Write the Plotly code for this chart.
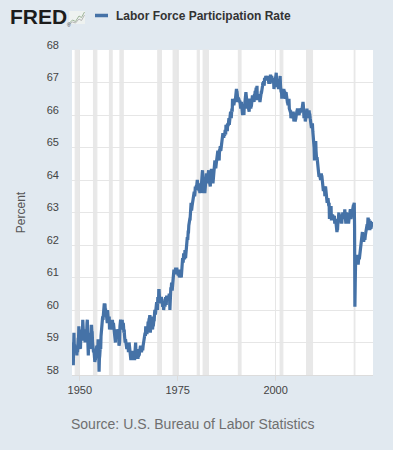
import pandas as pd
import plotly.graph_objects as go

# ---------------- data (monthly, percent) ----------------
lfpr_1940s = [
    58.6, 58.9, 58.5, 59.0, 58.3, 59.2, 59.3, 58.9, 58.9, 58.7, 58.7, 58.9,  # 1948
    58.7, 58.9, 58.8, 58.6, 58.9, 58.7, 58.9, 59.1, 59.1, 59.5, 59.1, 59.1,  # 1949
]
lfpr_1950s = [
    58.9, 58.9, 58.8, 59.2, 59.1, 59.1, 59.1, 59.4, 59.3, 59.7, 59.3, 59.2,  # 1950
    59.1, 59.1, 59.1, 59.3, 59.0, 59.3, 59.4, 59.3, 59.2, 59.3, 59.6, 59.7,  # 1951
    59.2, 58.7, 58.6, 58.9, 59.0, 58.9, 58.9, 58.8, 59.3, 58.9, 59.2, 59.5,  # 1952
    59.5, 59.3, 59.3, 59.0, 58.8, 58.9, 58.7, 58.8, 58.7, 58.6, 58.4, 58.5,  # 1953
    58.5, 58.8, 58.8, 58.8, 58.9, 58.7, 58.9, 58.8, 59.1, 58.9, 58.6, 58.1,  # 1954
    58.5, 58.6, 58.7, 58.9, 58.8, 59.2, 59.4, 59.5, 59.6, 59.6, 59.8, 59.7,  # 1955
    59.9, 60.0, 60.1, 60.2, 60.1, 60.2, 60.0, 60.0, 59.8, 59.9, 59.8, 59.7,  # 1956
    59.6, 60.0, 59.8, 59.6, 59.6, 59.7, 59.8, 59.4, 59.5, 59.5, 59.6, 59.5,  # 1957
    59.5, 59.4, 59.6, 59.7, 59.7, 59.5, 59.6, 59.6, 59.5, 59.4, 59.4, 59.3,  # 1958
    59.3, 59.0, 59.2, 59.3, 59.2, 59.4, 59.4, 59.3, 59.4, 59.3, 59.4, 59.3,  # 1959
]
lfpr_1960s = [
    58.9, 59.0, 59.0, 59.5, 59.6, 59.7, 59.6, 59.5, 59.5, 59.4, 59.7, 59.4,  # 1960
    59.5, 59.6, 59.5, 59.3, 59.4, 59.2, 59.0, 59.0, 59.1, 59.0, 59.0, 59.0,  # 1961
    58.8, 58.9, 58.9, 58.8, 58.9, 58.7, 58.9, 59.0, 58.9, 58.8, 58.6, 58.5,  # 1962
    58.5, 58.5, 58.5, 58.7, 58.7, 58.5, 58.7, 58.6, 58.7, 58.6, 58.6, 58.5,  # 1963
    58.5, 58.7, 58.8, 59.0, 58.7, 58.7, 58.6, 58.5, 58.6, 58.6, 58.5, 58.6,  # 1964
    58.6, 58.8, 58.6, 58.7, 58.9, 58.9, 58.9, 58.8, 58.7, 58.7, 58.8, 58.8,  # 1965
    58.8, 58.8, 58.9, 59.0, 59.1, 59.1, 59.2, 59.3, 59.3, 59.2, 59.5, 59.3,  # 1966
    59.4, 59.3, 59.3, 59.5, 59.4, 59.6, 59.6, 59.6, 59.7, 59.7, 59.8, 59.8,  # 1967
    59.3, 59.5, 59.6, 59.7, 59.6, 59.8, 59.5, 59.4, 59.6, 59.5, 59.6, 59.7,  # 1968
    59.7, 59.9, 60.0, 59.9, 59.9, 60.1, 60.0, 60.2, 60.2, 60.1, 60.0, 60.4,  # 1969
]
lfpr_1970s = [
    60.3, 60.2, 60.6, 60.6, 60.4, 60.2, 60.4, 60.3, 60.4, 60.4, 60.4, 60.3,  # 1970
    60.3, 60.2, 60.1, 60.2, 60.2, 60.0, 60.1, 60.2, 60.2, 60.1, 60.3, 60.4,  # 1971
    60.2, 60.2, 60.4, 60.4, 60.4, 60.4, 60.4, 60.4, 60.4, 60.4, 60.5, 60.4,  # 1972
    60.0, 60.4, 60.6, 60.7, 60.6, 60.8, 60.8, 60.6, 60.8, 60.9, 61.0, 61.0,  # 1973
    61.2, 61.2, 61.2, 61.1, 61.2, 61.2, 61.3, 61.2, 61.3, 61.3, 61.2, 61.2,  # 1974
    61.2, 61.1, 61.1, 61.2, 61.2, 61.0, 61.1, 61.2, 61.1, 61.1, 61.1, 61.0,  # 1975
    61.2, 61.2, 61.3, 61.6, 61.5, 61.5, 61.7, 61.7, 61.6, 61.6, 61.8, 61.8,  # 1976
    61.6, 61.8, 61.9, 62.0, 62.1, 62.2, 62.2, 62.2, 62.4, 62.4, 62.6, 62.8,  # 1977
    62.7, 62.8, 62.8, 62.9, 63.0, 63.3, 63.1, 63.1, 63.2, 63.3, 63.4, 63.5,  # 1978
    63.4, 63.5, 63.6, 63.6, 63.5, 63.6, 63.8, 63.7, 63.7, 63.8, 63.8, 63.9,  # 1979
]
lfpr_1980s = [
    64.0, 63.9, 63.7, 63.8, 63.9, 63.7, 63.7, 63.7, 63.6, 63.7, 63.8, 63.6,  # 1980
    63.9, 63.9, 64.1, 64.2, 64.3, 63.7, 63.8, 63.7, 63.6, 63.9, 63.9, 63.6,  # 1981
    63.7, 63.8, 63.8, 63.9, 64.2, 63.9, 64.0, 64.1, 64.1, 64.1, 64.2, 64.3,  # 1982
    64.0, 63.9, 63.8, 63.9, 63.8, 64.3, 64.1, 64.3, 64.3, 64.0, 64.1, 64.1,  # 1983
    63.9, 64.1, 64.1, 64.3, 64.5, 64.6, 64.6, 64.4, 64.4, 64.4, 64.5, 64.6,  # 1984
    64.7, 64.7, 64.9, 64.9, 64.8, 64.6, 64.7, 64.6, 64.9, 64.9, 65.0, 65.0,  # 1985
    64.9, 65.0, 65.2, 65.2, 65.3, 65.4, 65.4, 65.4, 65.3, 65.3, 65.4, 65.4,  # 1986
    65.4, 65.5, 65.5, 65.4, 65.7, 65.5, 65.6, 65.7, 65.5, 65.7, 65.7, 65.7,  # 1987
    65.8, 65.9, 65.7, 65.8, 65.8, 65.9, 66.1, 66.0, 65.9, 66.0, 66.2, 66.1,  # 1988
    66.5, 66.3, 66.3, 66.4, 66.3, 66.5, 66.5, 66.5, 66.4, 66.5, 66.6, 66.5,  # 1989
]
lfpr_1990s = [
    66.8, 66.7, 66.7, 66.6, 66.6, 66.4, 66.5, 66.5, 66.4, 66.4, 66.4, 66.4,  # 1990
    66.2, 66.2, 66.3, 66.4, 66.2, 66.2, 66.1, 66.0, 66.2, 66.1, 66.1, 66.0,  # 1991
    66.3, 66.2, 66.4, 66.5, 66.6, 66.7, 66.6, 66.5, 66.4, 66.2, 66.3, 66.3,  # 1992
    66.2, 66.2, 66.2, 66.1, 66.4, 66.5, 66.4, 66.4, 66.2, 66.3, 66.3, 66.4,  # 1993
    66.6, 66.6, 66.5, 66.5, 66.6, 66.4, 66.4, 66.6, 66.6, 66.7, 66.7, 66.7,  # 1994
    66.8, 66.8, 66.7, 66.9, 66.5, 66.5, 66.6, 66.6, 66.6, 66.5, 66.6, 66.5,  # 1995
    66.4, 66.6, 66.6, 66.7, 66.7, 66.7, 66.9, 66.7, 66.9, 67.0, 66.9, 67.0,  # 1996
    67.0, 66.9, 67.1, 67.1, 67.1, 67.1, 67.2, 67.1, 67.1, 67.1, 67.1, 67.2,  # 1997
    67.1, 67.1, 67.1, 67.0, 67.0, 67.0, 67.0, 67.0, 67.2, 67.2, 67.1, 67.2,  # 1998
    67.2, 67.1, 67.0, 67.1, 67.1, 67.1, 67.0, 66.8, 66.9, 66.9, 67.0, 67.1,  # 1999
]
lfpr_2000s = [
    67.3, 67.3, 67.3, 67.0, 67.1, 67.1, 66.9, 66.9, 66.9, 66.8, 66.9, 67.0,  # 2000
    67.2, 67.1, 67.2, 66.9, 66.7, 66.7, 66.8, 66.5, 66.8, 66.7, 66.7, 66.7,  # 2001
    66.5, 66.8, 66.6, 66.7, 66.7, 66.6, 66.5, 66.6, 66.7, 66.6, 66.4, 66.4,  # 2002
    66.4, 66.4, 66.3, 66.4, 66.4, 66.5, 66.2, 66.1, 66.1, 66.1, 66.1, 65.9,  # 2003
    66.1, 66.0, 66.0, 65.9, 66.0, 66.1, 66.1, 66.0, 65.8, 65.9, 66.0, 65.9,  # 2004
    65.8, 65.9, 65.9, 66.1, 66.1, 66.1, 66.1, 66.2, 66.1, 66.1, 66.0, 66.0,  # 2005
    66.0, 66.1, 66.2, 66.1, 66.1, 66.2, 66.1, 66.2, 66.1, 66.2, 66.3, 66.4,  # 2006
    66.4, 66.3, 66.2, 65.9, 66.0, 66.0, 66.0, 65.8, 66.0, 65.8, 66.0, 66.0,  # 2007
    66.2, 66.0, 66.1, 65.9, 66.1, 66.1, 66.1, 66.1, 66.0, 66.0, 65.9, 65.8,  # 2008
    65.7, 65.8, 65.6, 65.7, 65.7, 65.7, 65.5, 65.4, 65.1, 65.0, 65.0, 64.6,  # 2009
]
lfpr_2010s = [
    64.8, 64.9, 64.9, 65.2, 64.9, 64.6, 64.6, 64.7, 64.6, 64.4, 64.6, 64.3,  # 2010
    64.2, 64.1, 64.2, 64.2, 64.1, 64.0, 64.0, 64.1, 64.2, 64.1, 64.1, 64.0,  # 2011
    63.7, 63.7, 63.7, 63.7, 63.8, 63.8, 63.7, 63.5, 63.6, 63.8, 63.6, 63.6,  # 2012
    63.6, 63.4, 63.3, 63.4, 63.4, 63.4, 63.3, 63.2, 63.3, 62.8, 63.0, 62.9,  # 2013
    62.9, 63.0, 63.2, 62.8, 62.8, 62.8, 62.9, 62.9, 62.8, 62.9, 62.9, 62.8,  # 2014
    62.9, 62.7, 62.7, 62.7, 62.8, 62.6, 62.6, 62.6, 62.4, 62.5, 62.5, 62.7,  # 2015
    62.7, 62.9, 63.0, 62.8, 62.7, 62.8, 62.8, 62.8, 62.8, 62.8, 62.7, 62.7,  # 2016
    62.9, 62.9, 63.0, 62.9, 62.8, 62.8, 62.9, 62.9, 63.1, 62.7, 62.8, 62.7,  # 2017
    62.7, 63.0, 62.9, 62.8, 62.8, 62.9, 62.9, 62.7, 62.7, 62.8, 62.9, 63.0,  # 2018
    63.1, 63.1, 63.0, 62.8, 62.9, 62.9, 63.0, 63.1, 63.1, 63.2, 63.2, 63.2,  # 2019
]
lfpr_2020s = [
    63.3, 63.3, 62.6, 60.1, 60.8, 61.4, 61.5, 61.7, 61.4, 61.6, 61.5, 61.5,  # 2020
    61.4, 61.4, 61.5, 61.7, 61.6, 61.6, 61.7, 61.7, 61.7, 61.8, 61.9, 62.0,  # 2021
    62.2, 62.3, 62.4, 62.2, 62.3, 62.2, 62.1, 62.3, 62.3, 62.2, 62.2, 62.3,  # 2022
    62.4, 62.5, 62.6, 62.6, 62.6, 62.6, 62.6, 62.8, 62.8, 62.7, 62.8, 62.5,  # 2023
    62.5, 62.5, 62.7, 62.7, 62.5, 62.6, 62.7, 62.7, 62.7, 62.6,              # 2024
]
series_start = "1948-01-01"

recession_starts = ["1948-11-01", "1953-07-01", "1957-08-01", "1960-04-01",
                    "1969-12-01", "1973-11-01", "1980-01-01", "1981-07-01",
                    "1990-07-01", "2001-03-01", "2007-12-01", "2020-02-01"]
recession_ends = ["1949-10-01", "1954-05-01", "1958-04-01", "1961-02-01",
                  "1970-11-01", "1975-03-01", "1980-07-01", "1982-11-01",
                  "1991-03-01", "2001-11-01", "2009-06-01", "2020-04-01"]

x_tick_vals = ["1950-01-01", "1975-01-01", "2000-01-01"]
x_tick_text = ["1950", "1975", "2000"]
y_ticks = [58, 59, 60, 61, 62, 63, 64, 65, 66, 67, 68]

series_name = "Labor Force Participation Rate"
y_title = "Percent"
source_text = "Source: U.S. Bureau of Labor Statistics"

# ---------------- build ----------------
values = (lfpr_1940s + lfpr_1950s + lfpr_1960s + lfpr_1970s + lfpr_1980s
          + lfpr_1990s + lfpr_2000s + lfpr_2010s + lfpr_2020s)
dates = pd.date_range(series_start, periods=len(values), freq="MS")

W, H = 393, 450
ML, MR, MT, MB = 72, 20, 50, 75
PW, PH = W - ML - MR, H - MT - MB

def px(xp):
    return (xp - ML) / PW

def py(yp):
    return (H - MB - yp) / PH

BLUE = "#4572A7"
FONT = "Liberation Sans, Arial, sans-serif"

fig = go.Figure()
fig.add_trace(go.Scatter(x=dates, y=values, mode="lines",
                         line=dict(color=BLUE, width=3.2),
                         name=series_name, showlegend=False,
                         hoverinfo="skip"))

shapes = []
for s, e in zip(recession_starts, recession_ends):
    shapes.append(dict(type="rect", xref="x", yref="paper", x0=s, x1=e,
                       y0=0, y1=1, fillcolor="#e8e8e8",
                       line=dict(color="#e8e8e8", width=1.2),
                       layer="below"))

# legend line
shapes.append(dict(type="line", xref="paper", yref="paper",
                   x0=px(95), x1=px(108), y0=py(15.5), y1=py(15.5),
                   line=dict(color=BLUE, width=3.5)))
# small FRED chart icon
shapes.append(dict(type="rect", xref="paper", yref="paper",
                   x0=px(69), x1=px(85), y0=py(24), y1=py(11),
                   fillcolor="#eef2f0", line=dict(width=0)))
icon_pts_a = [(69.5, 23), (72.5, 20), (75.5, 21.5), (79, 16), (81.5, 17.5), (84.5, 12)]
icon_pts_b = [(69.5, 24), (72.5, 22), (75.5, 23), (79, 19), (81.5, 20.5), (84.5, 15)]
for pts, col in ((icon_pts_a, "#9fb59a"), (icon_pts_b, "#b5b5b5")):
    path = "M " + " L ".join(f"{px(a):.5f},{py(b):.5f}" for a, b in pts)
    shapes.append(dict(type="path", xref="paper", yref="paper", path=path,
                       line=dict(color=col, width=1)))

annotations = [
    dict(text="<b>FRED</b>", xref="paper", yref="paper", x=px(8), y=py(17),
         xanchor="left", yanchor="middle", showarrow=False,
         font=dict(family=FONT, size=21, color="#1c1c1c")),
    dict(text="®", xref="paper", yref="paper", x=px(65), y=py(25),
         xanchor="left", yanchor="middle", showarrow=False,
         font=dict(family=FONT, size=5, color="#333")),
    dict(text=f"<b>{series_name}</b>", xref="paper", yref="paper",
         x=px(114), y=py(15.5), xanchor="left", yanchor="middle",
         showarrow=False, font=dict(family=FONT, size=12, color="#333333")),
    dict(text=source_text, xref="paper", yref="paper", x=px(69), y=py(424),
         xanchor="left", yanchor="middle", showarrow=False,
         font=dict(family=FONT, size=14, color="#6f6f6f")),
]

fig.update_layout(
    width=W, height=H,
    margin=dict(l=ML, r=MR, t=MT, b=MB, pad=0),
    paper_bgcolor="#e1e9f0", plot_bgcolor="#ffffff",
    font=dict(family=FONT, size=11, color="#444444"),
    shapes=shapes, annotations=annotations, showlegend=False,
    xaxis=dict(type="date", range=["1948-01-01", "2024-11-15"],
               tickvals=x_tick_vals, ticktext=x_tick_text,
               showgrid=True, gridcolor="#e6e6e6", gridwidth=1,
               ticks="outside", ticklen=5, tickcolor="#dcdcdc",
               showline=True, linecolor="#dcdcdc", linewidth=1,
               tickfont=dict(size=11, color="#444444"),
               zeroline=False, fixedrange=True),
    yaxis=dict(range=[58, 68], tickvals=y_ticks,
               showgrid=True, gridcolor="#e6e6e6", gridwidth=1,
               ticks="", ticklabelstandoff=12, ticklabelshift=-5,
               tickfont=dict(size=11, color="#444444"),
               title=dict(text=y_title, standoff=18,
                          font=dict(size=12, color="#555555")),
               zeroline=False, showline=False, fixedrange=True),
)

fig.write_html("out.html", config={"displayModeBar": False},
               post_script="document.body.style.margin='0';"
                           "document.body.style.background='#e1e9f0';")
